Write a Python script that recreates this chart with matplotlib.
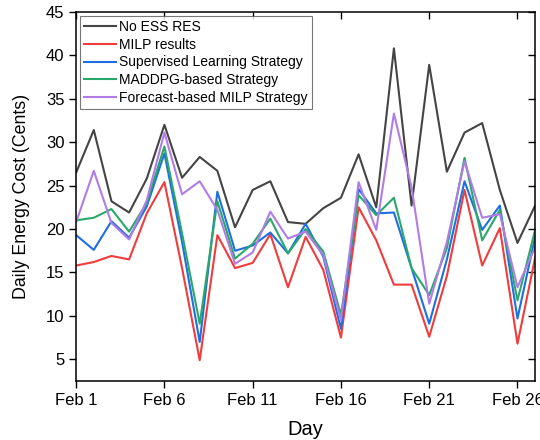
"""
Daily energy cost per strategy, Feb 1 - Feb 27
"""
import numpy as np
import matplotlib
matplotlib.use("Agg")
import matplotlib.pyplot as plt

plt.rcParams["font.family"] = ["Liberation Sans", "DejaVu Sans"]

days = list(range(1, 28))
tick_days = [1, 6, 11, 16, 21, 26]
tick_labels = ["Feb 1", "Feb 6", "Feb 11", "Feb 16", "Feb 21", "Feb 26"]

no_ess = [26.5, 31.4, 23.2, 21.9, 25.8, 32.0, 25.9, 28.3, 26.7, 20.2, 24.5, 25.5, 20.8, 20.6,
          22.4, 23.6, 28.6, 22.5, 40.8, 22.7, 38.9, 26.6, 31.1, 32.2, 24.5, 18.4, 22.7]
milp = [15.8, 16.2, 16.9, 16.5, 21.8, 25.4, 15.5, 4.9, 19.3, 15.5, 16.1, 19.4, 13.3, 19.1,
        15.3, 7.5, 22.5, 18.7, 13.6, 13.6, 7.6, 14.6, 24.5, 15.8, 20.1, 6.8, 16.7]
supervised = [19.3, 17.6, 20.9, 19.0, 22.6, 28.7, 18.5, 7.0, 24.3, 17.5, 18.1, 19.6, 17.2, 20.6,
              16.8, 8.5, 24.6, 21.8, 21.9, 15.5, 9.1, 16.5, 25.5, 19.9, 22.7, 9.7, 19.1]
maddpg = [21.0, 21.3, 22.3, 19.7, 23.0, 29.5, 19.5, 9.1, 23.2, 16.6, 18.3, 21.2, 17.2, 20.0,
          17.4, 10.1, 23.9, 21.6, 23.6, 15.5, 12.4, 17.8, 28.2, 18.7, 22.2, 11.8, 19.9]
forecast = [20.8, 26.7, 20.7, 18.8, 23.3, 31.1, 24.0, 25.5, 22.2, 16.0, 17.3, 22.0, 18.9, 19.7,
            17.0, 9.5, 25.4, 19.9, 33.3, 24.8, 11.4, 18.5, 27.8, 21.3, 21.7, 13.3, 17.9]

series = [
    ("No ESS RES", no_ess, "#444444"),
    ("MILP results", milp, "#f03c3c"),
    ("Supervised Learning Strategy", supervised, "#1f6fe0"),
    ("MADDPG-based Strategy", maddpg, "#2aa86a"),
    ("Forecast-based MILP Strategy", forecast, "#b27ce6"),
]

fig = plt.figure(figsize=(5.4, 4.4), dpi=100)
ax = fig.add_axes([0.141, 0.134, 0.850, 0.839])

for nome, vals, cor in series:
    ax.plot(days, vals, color=cor, linewidth=1.5, label=nome)

ax.set_xlim(1, 27)
ax.set_ylim(2.5, 45)
ax.set_xticks(tick_days)
ax.set_xticklabels(tick_labels)
ax.set_yticks(np.arange(5, 46, 5))
ax.tick_params(axis="both", which="major", direction="out", length=5, width=1,
               labelsize=12, colors="black")
ax.tick_params(top=True, right=True)
# ticks espelhados apontam para dentro (topo/direita)
for t in ax.xaxis.get_major_ticks():
    t.tick2line.set_marker(3)
for t in ax.yaxis.get_major_ticks():
    t.tick2line.set_marker(0)
for s in ax.spines.values():
    s.set_linewidth(1.1)

ax.set_xlabel("Day", fontsize=14.5, labelpad=9)
ax.set_ylabel("Daily Energy Cost (Cents)", fontsize=12.8, labelpad=11)

leg = ax.legend(loc="upper left", fontsize=10, frameon=True, fancybox=False,
                handlelength=2.3, handletextpad=0.2, labelspacing=0.26,
                borderpad=0.3, borderaxespad=0.3)
leg.get_frame().set_edgecolor("#555555")
leg.get_frame().set_linewidth(0.8)

plt.savefig("out.png", dpi=100)
plt.close()
